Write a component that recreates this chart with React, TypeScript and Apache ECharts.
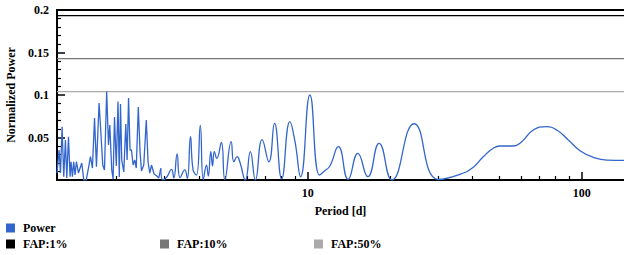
import React, { useEffect, useRef } from 'react';
import * as echarts from 'echarts';

// Periodogram, dense short-period part (drawn with straight segments)
const periodDense = [
  1.213, 1.234, 1.249, 1.266, 1.284, 1.302, 1.317, 1.336, 1.354, 1.365,
  1.381, 1.396, 1.412, 1.428, 1.453, 1.494, 1.519, 1.551, 1.580, 1.607,
  1.634, 1.663, 1.690, 1.728, 1.750, 1.782, 1.808, 1.842, 1.870, 1.891,
  1.922, 1.944, 1.967, 1.997, 2.026, 2.048, 2.069, 2.091, 2.127, 2.163,
  2.187, 2.214, 2.242, 2.269, 2.300, 2.333, 2.362, 2.403, 2.439, 2.468,
  2.516, 2.570, 2.609, 2.647, 2.685, 2.744, 2.807, 2.855, 2.903,
];
const powerDense = [
  0.0082, 0.0353, 0.0082, 0.0627, 0.0039, 0.0471, 0.0024, 0.0509, 0.0039, 0.0215,
  0.0039, 0.0215, 0.0059, 0.0215, 0.0082, 0.0200, 0.0000, 0.0000, 0.0141, 0.0274,
  0.0141, 0.0729, 0.0156, 0.0906, 0.0612, 0.0176, 0.0118, 0.1041, 0.0412, 0.0647,
  0.0118, 0.0012, 0.0741, 0.0165, 0.0924, 0.0035, 0.0894, 0.0235, 0.0094, 0.0659,
  0.0235, 0.0965, 0.0353, 0.0353, 0.0176, 0.0235, 0.0141, 0.0859, 0.0329, 0.0106,
  0.0176, 0.0706, 0.0212, 0.0082, 0.0176, 0.0071, 0.0047, 0.0024, 0.0138,
];
// Periodogram, longer periods (smooth part)
const periodSmooth = [
  2.903, 2.960, 3.053, 3.177, 3.239, 3.330, 3.415, 3.553, 3.628, 3.727,
  3.809, 3.920, 4.047, 4.151, 4.264, 4.329, 4.421, 4.485, 4.553, 4.650,
  4.831, 4.974, 5.246, 5.366, 5.516, 5.644, 5.910, 6.165, 6.430, 6.808,
  7.203, 7.556, 8.023, 8.597, 8.965, 9.404, 10.17, 11.02, 11.44, 12.03,
  12.92, 14.03, 15.22, 16.55, 18.20, 20.28, 24.43, 29.94, 35.92, 40.18,
  43.70, 47.53, 50.29, 56.25, 60.37, 66.57, 74.07, 81.05, 89.35, 98.58,
  110.3, 123.4, 142.7,
];
const powerSmooth = [
  0.0138, 0.0000, 0.0035, 0.0126, 0.0024, 0.0306, 0.0029, 0.0118, 0.0018, 0.0509,
  0.0118, 0.0059, 0.0641, 0.0006, 0.0176, 0.0047, 0.0333, 0.0165, 0.0333, 0.0255,
  0.0441, 0.0006, 0.0451, 0.0215, 0.0274, 0.0212, 0.0000, 0.0333, 0.0000, 0.0476,
  0.0215, 0.0667, 0.0014, 0.0686, 0.0459, 0.0039, 0.1000, 0.0059, 0.0100, 0.0165,
  0.0392, 0.0008, 0.0314, 0.0039, 0.0432, 0.0000, 0.0662, 0.0006, 0.0067, 0.0149,
  0.0274, 0.0373, 0.0400, 0.0400, 0.0451, 0.0588, 0.0627, 0.0588, 0.0471, 0.0345,
  0.0267, 0.0235, 0.0232,
];

const fapNames = ['FAP:1%', 'FAP:10%', 'FAP:50%'];
const fapLevels = [0.1933, 0.1427, 0.1039];
const fapColors = ['#000000', '#777777', '#aaaaaa'];

const periodMin = 1.213;
const periodMax = 142.7;
const majorTickPeriods = [10, 100];
const minorTickPeriods = [2, 3, 4, 5, 6, 7, 8, 9, 20, 30, 40, 50, 60, 70, 80, 90];

const powerMin = 0;
const powerMax = 0.2;
const powerStep = 0.05;

const FONT = '"Liberation Serif", "Times New Roman", serif';
const lg = (v: number) => Math.log10(v);

export default function App() {
  const ref = useRef<HTMLDivElement>(null);
  useEffect(() => {
    if (!ref.current) return;
    const chart = echarts.init(ref.current, undefined, { renderer: 'svg' });
    const xMin = lg(periodMin);
    const xMax = lg(periodMax);
    const txt = { fontFamily: FONT, fontWeight: 'bold' as const, fontSize: 12, color: '#000' };
    const powerColor = '#3366cc';

    const series: any[] = [
      {
        name: 'Power', type: 'line', symbol: 'none', showSymbol: false,
        data: periodDense.map((p, i) => [lg(p), powerDense[i]]),
        lineStyle: { color: powerColor, width: 1.3 }, itemStyle: { color: powerColor },
        z: 5,
      },
      {
        name: 'Power', type: 'line', symbol: 'none', showSymbol: false, smooth: 0.5,
        data: periodSmooth.map((p, i) => [lg(p), powerSmooth[i]]),
        lineStyle: { color: powerColor, width: 1.3 }, itemStyle: { color: powerColor },
        z: 5,
      },
      ...fapNames.map((n, i) => ({
        name: n, type: 'line', symbol: 'none', showSymbol: false, silent: true,
        data: [[xMin, fapLevels[i]], [xMax, fapLevels[i]]],
        lineStyle: { color: fapColors[i], width: 1.2 }, itemStyle: { color: fapColors[i] },
        z: 3,
      })),
    ];

    const legendBase = {
      orient: 'horizontal', icon: 'rect', itemWidth: 9, itemHeight: 9, padding: 0,
      textStyle: { ...txt, padding: [0, 0, 0, 3] }, selectedMode: false,
    };

    chart.setOption({
      animation: false,
      backgroundColor: '#fff',
      grid: { left: 57, top: 10, right: 0, bottom: 75, containLabel: false, outerBoundsMode: 'none' },
      legend: [
        { ...legendBase, data: ['Power'], left: 6, top: 222 },
        { ...legendBase, data: [fapNames[0]], left: 6, top: 238 },
        { ...legendBase, data: [fapNames[1]], left: 160, top: 238 },
        { ...legendBase, data: [fapNames[2]], left: 314, top: 238 },
      ],
      xAxis: [
        {
          type: 'value', position: 'bottom', min: xMin, max: xMax,
          axisLine: { show: true, lineStyle: { color: '#000', width: 2 } },
          axisTick: { show: true, inside: true, length: 8, customValues: majorTickPeriods.map(lg), lineStyle: { color: '#000', width: 1.5 } },
          axisLabel: { show: true, customValues: majorTickPeriods.map(lg), formatter: (v: number) => String(Math.round(Math.pow(10, v))), ...txt, margin: 7 },
          splitLine: { show: false },
          name: 'Period [d]', nameLocation: 'middle', nameGap: 25, nameTextStyle: txt,
        },
        {
          type: 'value', position: 'bottom', min: xMin, max: xMax,
          axisLine: { show: false },
          axisTick: { show: true, inside: true, length: 4, customValues: minorTickPeriods.map(lg), lineStyle: { color: '#000', width: 1.2 } },
          axisLabel: { show: false },
          splitLine: { show: false },
        },
        {
          type: 'value', position: 'top', min: xMin, max: xMax,
          axisLine: { show: true, lineStyle: { color: '#000', width: 2 } },
          axisTick: { show: false }, axisLabel: { show: false }, splitLine: { show: false },
        },
      ],
      yAxis: {
        type: 'value', min: powerMin, max: powerMax, interval: powerStep,
        axisLine: { show: true, lineStyle: { color: '#000', width: 2 } },
        axisTick: { show: true, inside: true, length: 8, lineStyle: { color: '#000', width: 1.5 } },
        minorTick: { show: true, splitNumber: 5, length: 4, lineStyle: { color: '#000', width: 1.2 } },
        axisLabel: { ...txt, margin: 8, formatter: (v: number) => (v === 0 ? '' : String(v)) },
        splitLine: { show: false },
        name: 'Normalized Power', nameLocation: 'middle', nameGap: 39, nameTextStyle: txt,
      },
      series,
    });
    return () => chart.dispose();
  }, []);
  return <div ref={ref} style={{ position: 'fixed', left: 0, top: 0, width: 624, height: 255 }} />;
}
